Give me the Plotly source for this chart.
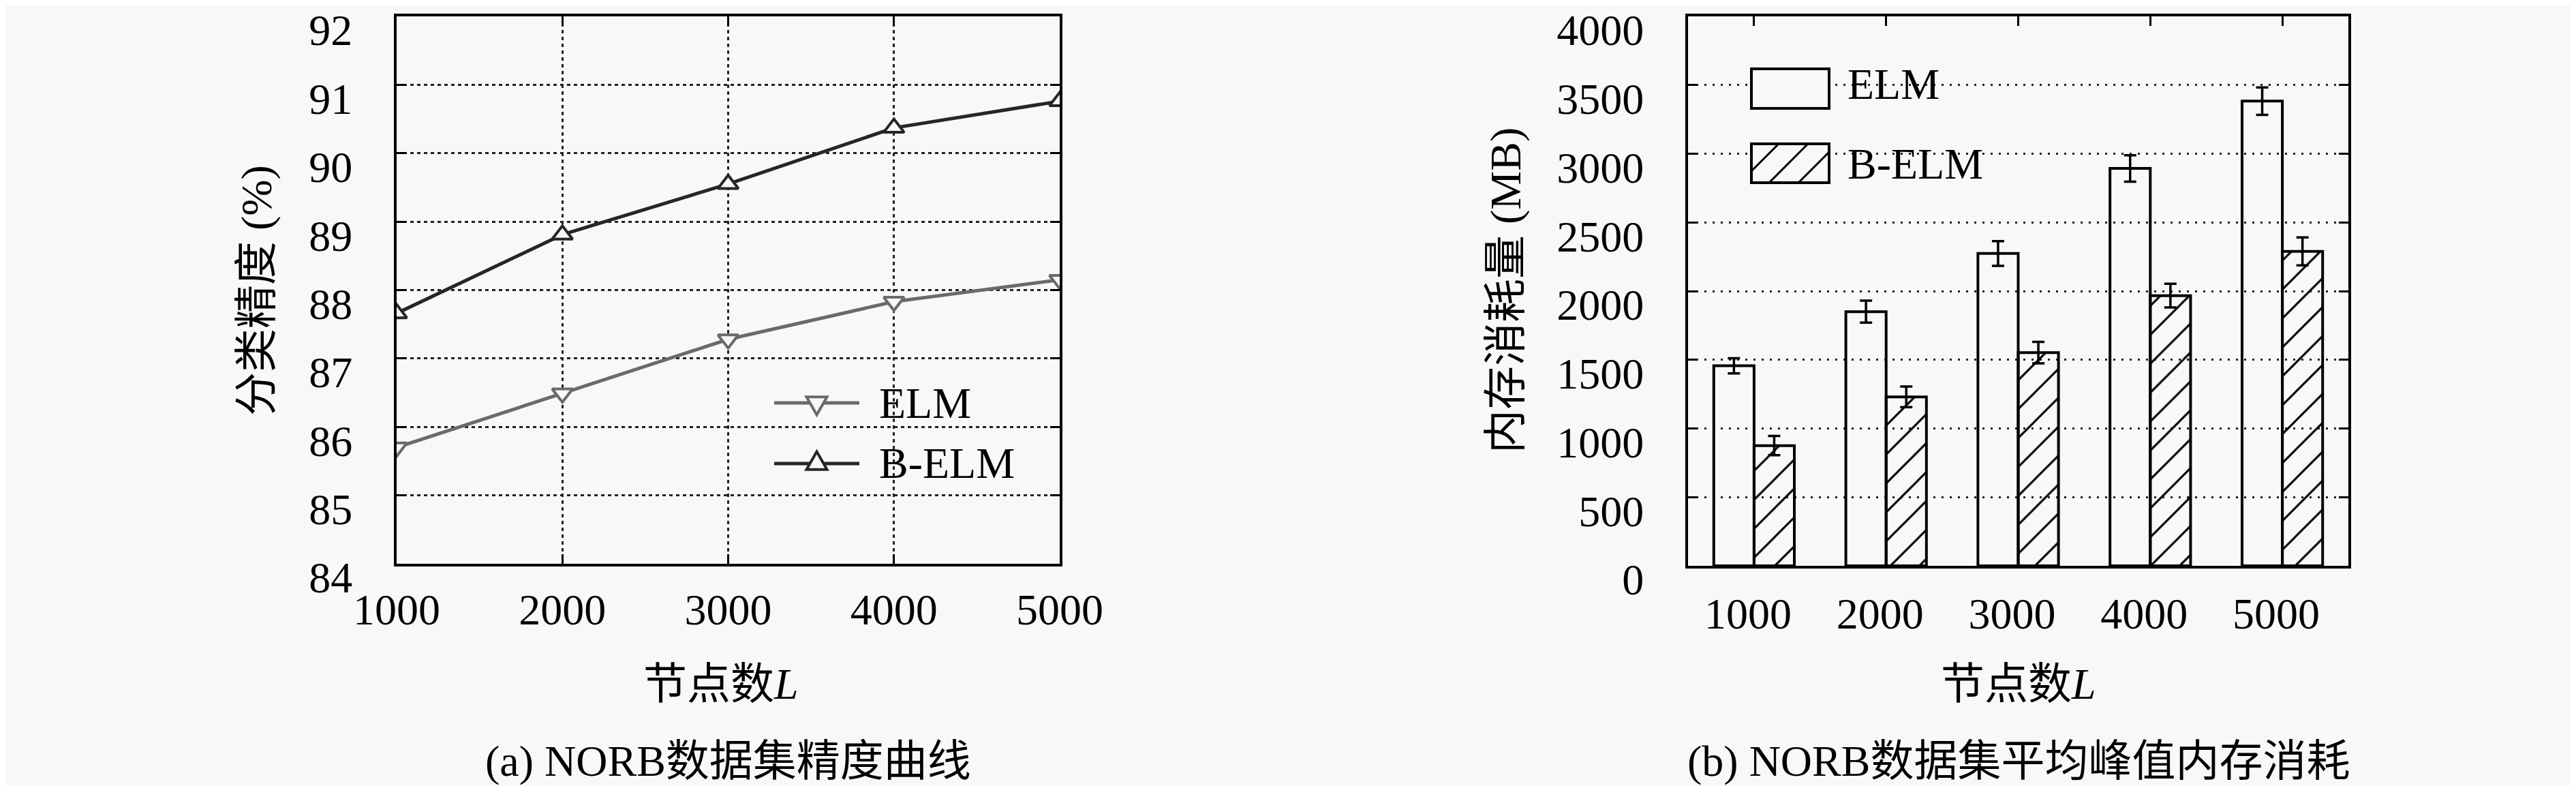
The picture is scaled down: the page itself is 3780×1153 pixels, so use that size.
import plotly.graph_objects as go

# ---------------- data ----------------
nodes = [1000, 2000, 3000, 4000, 5000]
node_labels = ["1000", "2000", "3000", "4000", "5000"]
acc_elm = [85.70, 86.49, 87.28, 87.83, 88.15]
acc_belm = [87.66, 88.81, 89.55, 90.37, 90.76]
mem_elm = [1456, 1850, 2274, 2893, 3383]
mem_elm_err = [55, 80, 90, 96, 100]
mem_belm = [875, 1230, 1552, 1967, 2289]
mem_belm_err = [70, 75, 78, 86, 102]
acc_ticks = [84, 85, 86, 87, 88, 89, 90, 91, 92]
mem_ticks = [0, 500, 1000, 1500, 2000, 2500, 3000, 3500, 4000]

W, H = 3780, 1153
BG = "#f8f8f8"
FONT = "Liberation Serif, Noto Sans CJK SC, serif"
FS = 64


def px(x):
    return x / W


def py(y):
    return 1 - y / H


fig = go.Figure()

# ---------------- left: accuracy curves ----------------
fig.add_trace(go.Scatter(
    x=nodes, y=acc_elm, mode="lines+markers", name="ELM",
    line=dict(color="#6a6a6a", width=5),
    marker=dict(symbol="triangle-down", size=26, color=BG,
                line=dict(color="#6a6a6a", width=4)),
    xaxis="x", yaxis="y", showlegend=False))
fig.add_trace(go.Scatter(
    x=nodes, y=acc_belm, mode="lines+markers", name="B-ELM",
    line=dict(color="#262626", width=5),
    marker=dict(symbol="triangle-up", size=26, color=BG,
                line=dict(color="#262626", width=4)),
    xaxis="x", yaxis="y", showlegend=False))

# ---------------- right: memory bars ----------------
fig.add_trace(go.Bar(
    x=node_labels, y=mem_elm, name="ELM",
    marker=dict(color="rgba(0,0,0,0)", line=dict(color="black", width=4)),
    error_y=dict(type="data", array=mem_elm_err, color="black", thickness=3.5, width=9),
    xaxis="x2", yaxis="y2", showlegend=False))
fig.add_trace(go.Bar(
    x=node_labels, y=mem_belm, name="B-ELM",
    marker=dict(color="rgba(0,0,0,0)", line=dict(color="black", width=4),
                pattern=dict(shape="/", size=30, solidity=0.1,
                             fgcolor="black", bgcolor="rgba(0,0,0,0)")),
    error_y=dict(type="data", array=mem_belm_err, color="black", thickness=3.5, width=9),
    xaxis="x2", yaxis="y2", showlegend=False))

axis_common = dict(
    showline=True, linecolor="black", linewidth=4, mirror="ticks",
    ticks="inside", ticklen=14, tickwidth=3, tickcolor="black",
    tickfont=dict(family=FONT, size=FS, color="black"),
    zeroline=False, automargin=False, ticklabeloverflow="allow",
)

fig.update_layout(
    template="none",
    width=W, height=H,
    paper_bgcolor=BG, plot_bgcolor=BG,
    margin=dict(l=0, r=0, t=0, b=0, pad=0, autoexpand=False),
    barmode="group", bargap=0.39, bargroupgap=0,
    xaxis=dict(domain=[px(574), px(1547)], range=[1000, 5000],
               tickvals=nodes, ticktext=node_labels,
               showgrid=True, gridcolor="#222", gridwidth=2.5, griddash="5px,5px",
               ticklabelstandoff=8, anchor="y", **axis_common),
    yaxis=dict(domain=[py(819), py(16)], range=[84, 92], tickvals=acc_ticks,
               showgrid=True, gridcolor="#222", gridwidth=2.5, griddash="5px,5px",
               ticklabelstandoff=48, ticklabelshift=20, anchor="x", **axis_common),
    xaxis2=dict(domain=[px(2469), px(3438)], type="category", range=[-0.5, 4.5],
                showgrid=False, ticklabelstandoff=11, ticklabelshift=-9,
                anchor="y2", **axis_common),
    yaxis2=dict(domain=[py(822), py(16)], range=[0, 4000], tickvals=mem_ticks,
                showgrid=True, gridcolor="#222", gridwidth=3, griddash="3px,9px",
                ticklabelstandoff=48, ticklabelshift=20, anchor="x2", **axis_common),
)

shapes = []
annos = []


def text(x, y, s, xanchor="center", angle=0):
    annos.append(dict(x=px(x), y=py(y), xref="paper", yref="paper", text=s,
                      showarrow=False, xanchor=xanchor, yanchor="middle",
                      textangle=angle,
                      font=dict(family=FONT, size=FS, color="black")))


# axis titles and captions
text(369, 418, "分类精度 (%)", angle=-90)
text(2202, 418, "内存消耗量 (MB)", angle=-90)
text(1050, 995, "节点数<i>L</i>")
text(2954, 995, "节点数<i>L</i>")
text(1060, 1108, "(a) NORB数据集精度曲线")
text(2954, 1108, "(b) NORB数据集平均峰值内存消耗")

# ---- left legend (custom, drawn in paper space) ----
shapes.append(dict(type="rect", xref="paper", yref="paper", layer="between",
                   x0=px(1127), x1=px(1482), y0=py(728), y1=py(522),
                   fillcolor=BG, line=dict(width=0)))


def tri(cx, cy, s, up=True):
    h = s * 0.87
    if up:
        pts = [(cx - s / 2, cy + h / 3), (cx + s / 2, cy + h / 3), (cx, cy - 2 * h / 3)]
    else:
        pts = [(cx - s / 2, cy - h / 3), (cx + s / 2, cy - h / 3), (cx, cy + 2 * h / 3)]
    return "M" + " L".join(f"{px(a)},{py(b)}" for a, b in pts) + " Z"


for yy, col, up, name in [(583, "#6a6a6a", False, "ELM"), (672, "#262626", True, "B-ELM")]:
    shapes.append(dict(type="line", xref="paper", yref="paper", layer="above",
                       x0=px(1128), x1=px(1253), y0=py(yy), y1=py(yy),
                       line=dict(color=col, width=5)))
    shapes.append(dict(type="path", xref="paper", yref="paper", layer="above",
                       path=tri(1190.5, yy, 30, up), fillcolor=BG,
                       line=dict(color=col, width=4)))
    text(1280, yy, name, xanchor="left")

# ---- right legend ----
shapes.append(dict(type="rect", xref="paper", yref="paper", layer="between",
                   x0=px(2544), x1=px(2908), y0=py(275), y1=py(60),
                   fillcolor=BG, line=dict(width=0)))
bx0, bx1 = 2562, 2676
shapes.append(dict(type="rect", xref="paper", yref="paper", layer="above",
                   x0=px(bx0), x1=px(bx1), y0=py(151), y1=py(93),
                   fillcolor=BG, line=dict(color="black", width=4)))
hy0, hy1 = 203, 260
shapes.append(dict(type="rect", xref="paper", yref="paper", layer="above",
                   x0=px(bx0), x1=px(bx1), y0=py(hy1), y1=py(hy0),
                   fillcolor=BG, line=dict(color="black", width=4)))
# hatch lines: x + y = k, clipped to box
for k in range(bx0 + hy0 + 40, bx1 + hy1, 43):
    segs = []
    for xx in (bx0, bx1):
        yv = k - xx
        if hy0 <= yv <= hy1:
            segs.append((xx, yv))
    for yv in (hy0, hy1):
        xx = k - yv
        if bx0 < xx < bx1:
            segs.append((xx, yv))
    if len(segs) >= 2:
        (xa, ya), (xb, yb) = segs[0], segs[-1]
        shapes.append(dict(type="line", xref="paper", yref="paper", layer="above",
                           x0=px(xa), y0=py(ya), x1=px(xb), y1=py(yb),
                           line=dict(color="black", width=3)))
text(2701, 115, "ELM", xanchor="left")
text(2701, 232, "B-ELM", xanchor="left")

fig.update_layout(shapes=shapes, annotations=annos)
fig.write_html("out.html")
